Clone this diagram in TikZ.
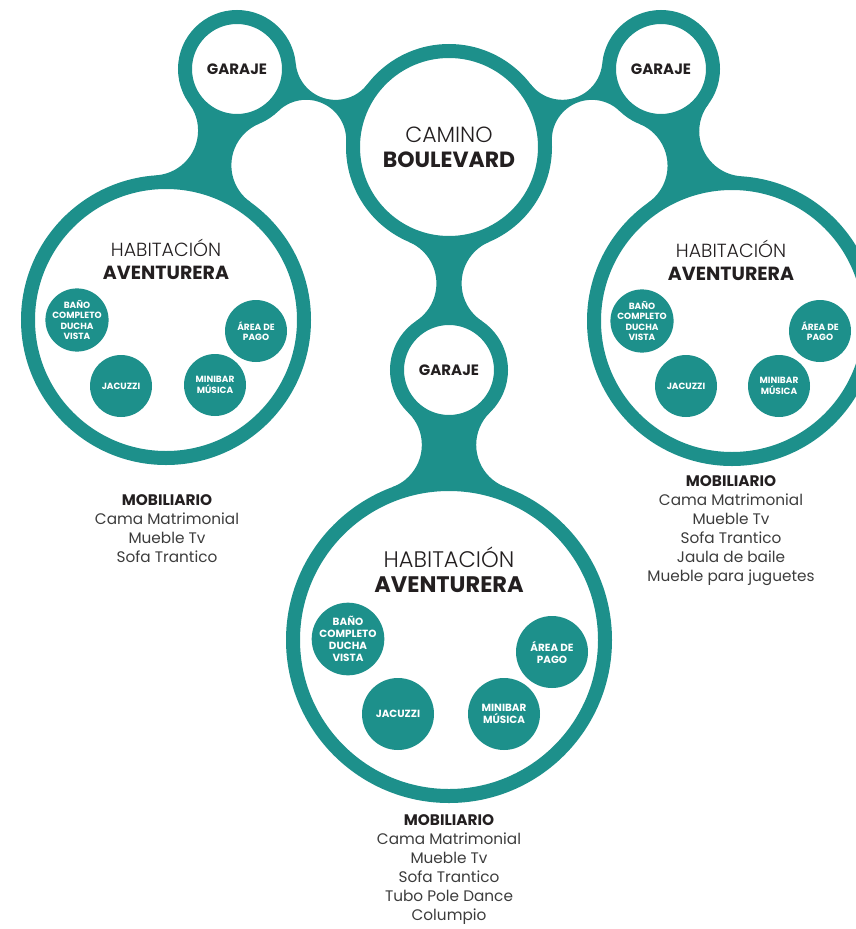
\documentclass[tikz,border=0pt]{standalone}
\usepackage{fontspec}
\setmainfont{Poppins}
\IfFontExistsTF{Poppins Light}{\newfontfamily\ligera{Poppins Light}}{\newfontfamily\ligera{Poppins}}
\usetikzlibrary{calc,intersections,backgrounds}
\definecolor{verde}{RGB}{29,144,139}
\definecolor{texto}{RGB}{35,31,32}
\definecolor{gris}{RGB}{60,60,60}

% puente entre dos anillos: nodo, radio, nodo, radio, radio del filete
\newcommand{\puente}[5]{%
  \path[name path=pa] (#1.center) circle[radius=#2pt+#5pt];
  \path[name path=pb] (#3.center) circle[radius=#4pt+#5pt];
  \path[name intersections={of=pa and pb, name=f}];
  \coordinate (a1) at ($(#1.center)!{#2/(#2+#5)}!(f-1)$);
  \coordinate (a2) at ($(#1.center)!{#2/(#2+#5)}!(f-2)$);
  \coordinate (b1) at ($(#3.center)!{#4/(#4+#5)}!(f-1)$);
  \coordinate (b2) at ($(#3.center)!{#4/(#4+#5)}!(f-2)$);
  \begin{scope}[even odd rule]
    \clip (0,0) rectangle (856,929)
      (f-1) circle[radius=#5pt] (f-2) circle[radius=#5pt];
    \fill[verde] (#1.center) -- (a1) -- (b1) -- (#3.center) -- (b2) -- (a2) -- cycle;
  \end{scope}}

\begin{document}
\begin{tikzpicture}[x=1pt, y=-1pt,
  anillo/.style={circle, draw=verde, fill=white, line width=14pt, inner sep=0pt, align=center, text=texto},
  garaje/.style={anillo, minimum size=104pt, font=\bfseries\fontsize{15}{17}\selectfont},
  bola/.style={circle, fill=verde, text=white, inner sep=0pt, align=center, minimum size=62pt, font=\bfseries\fontsize{9}{10.4}\selectfont},
  bolag/.style={bola, minimum size=72pt, font=\bfseries\fontsize{10.4}{12}\selectfont},
  titulo/.style={align=center, text=texto, font=\fontsize{19}{23}\selectfont},
  titulog/.style={align=center, text=texto, font=\fontsize{22.5}{25.5}\selectfont},
  lista/.style={align=center, text=gris, font=\fontsize{15.3}{19}\selectfont}]
\useasboundingbox (0,0) rectangle (856,929);
\clip (0,0) rectangle (856,929);

\node[anillo, minimum size=192pt, font=\fontsize{22}{25}\selectfont] (C) at (449,147) {{\ligera CAMINO}\\\textbf{BOULEVARD}};
\node[garaje] (G1) at (237,69) {GARAJE};
\node[garaje] (G2) at (661,69) {GARAJE};
\node[garaje] (G3) at (449,370) {GARAJE};
\node[anillo, minimum size=276pt] (H1) at (166,320) {};
\node[anillo, minimum size=276pt] (H2) at (732,321) {};
\node[anillo, minimum size=312pt] (H3) at (449,640) {};

\begin{pgfonlayer}{background}
\puente{G1}{59}{C}{103}{40}
\puente{G1}{59}{H1}{145}{45}
\puente{C}{103}{G2}{59}{40}
\puente{G2}{59}{H2}{145}{45}
\puente{C}{103}{G3}{59}{45}
\puente{G3}{59}{H3}{163}{45}
\end{pgfonlayer}

\node[titulo] (T1) at (166,259) {{\ligera HABITACIÓN}\\\textbf{AVENTURERA}};
\node[bola] (B1) at (77,320) {BAÑO\\COMPLETO\\DUCHA\\VISTA};
\node[bola] (J1) at (121,386) {JACUZZI};
\node[bola] (A1) at (256,331) {ÁREA DE\\PAGO};
\node[bola] (M1) at (215,385) {MINIBAR\\MÚSICA};

\node[titulo] (T2) at (731,260) {{\ligera HABITACIÓN}\\\textbf{AVENTURERA}};
\node[bola] (B2) at (642,321) {BAÑO\\COMPLETO\\DUCHA\\VISTA};
\node[bola] (J2) at (686,386) {JACUZZI};
\node[bola] (A2) at (820,331) {ÁREA DE\\PAGO};
\node[bola] (M2) at (779,386) {MINIBAR\\MÚSICA};

\node[titulog] (T3) at (449,570) {{\ligera HABITACIÓN}\\\textbf{AVENTURERA}};
\node[bolag] (B3) at (348,639) {BAÑO\\COMPLETO\\DUCHA\\VISTA};
\node[bolag] (J3) at (398,714) {JACUZZI};
\node[bolag] (A3) at (552,652) {ÁREA DE\\PAGO};
\node[bolag] (M3) at (504,714) {MINIBAR\\MÚSICA};

\node[lista] (L1) at (167,529) {\textbf{\color{texto}MOBILIARIO}\\Cama Matrimonial\\Mueble Tv\\Sofa Trantico};
\node[lista] (L2) at (731,531) {\textbf{\color{texto}MOBILIARIO}\\Cama Matrimonial\\Mueble Tv\\Sofa Trantico\\Jaula de baile\\Mueble para juguetes};
\node[lista] (L3) at (449,870) {\textbf{\color{texto}MOBILIARIO}\\Cama Matrimonial\\Mueble Tv\\Sofa Trantico\\Tubo Pole Dance\\Columpio};
\end{tikzpicture}
\end{document}
